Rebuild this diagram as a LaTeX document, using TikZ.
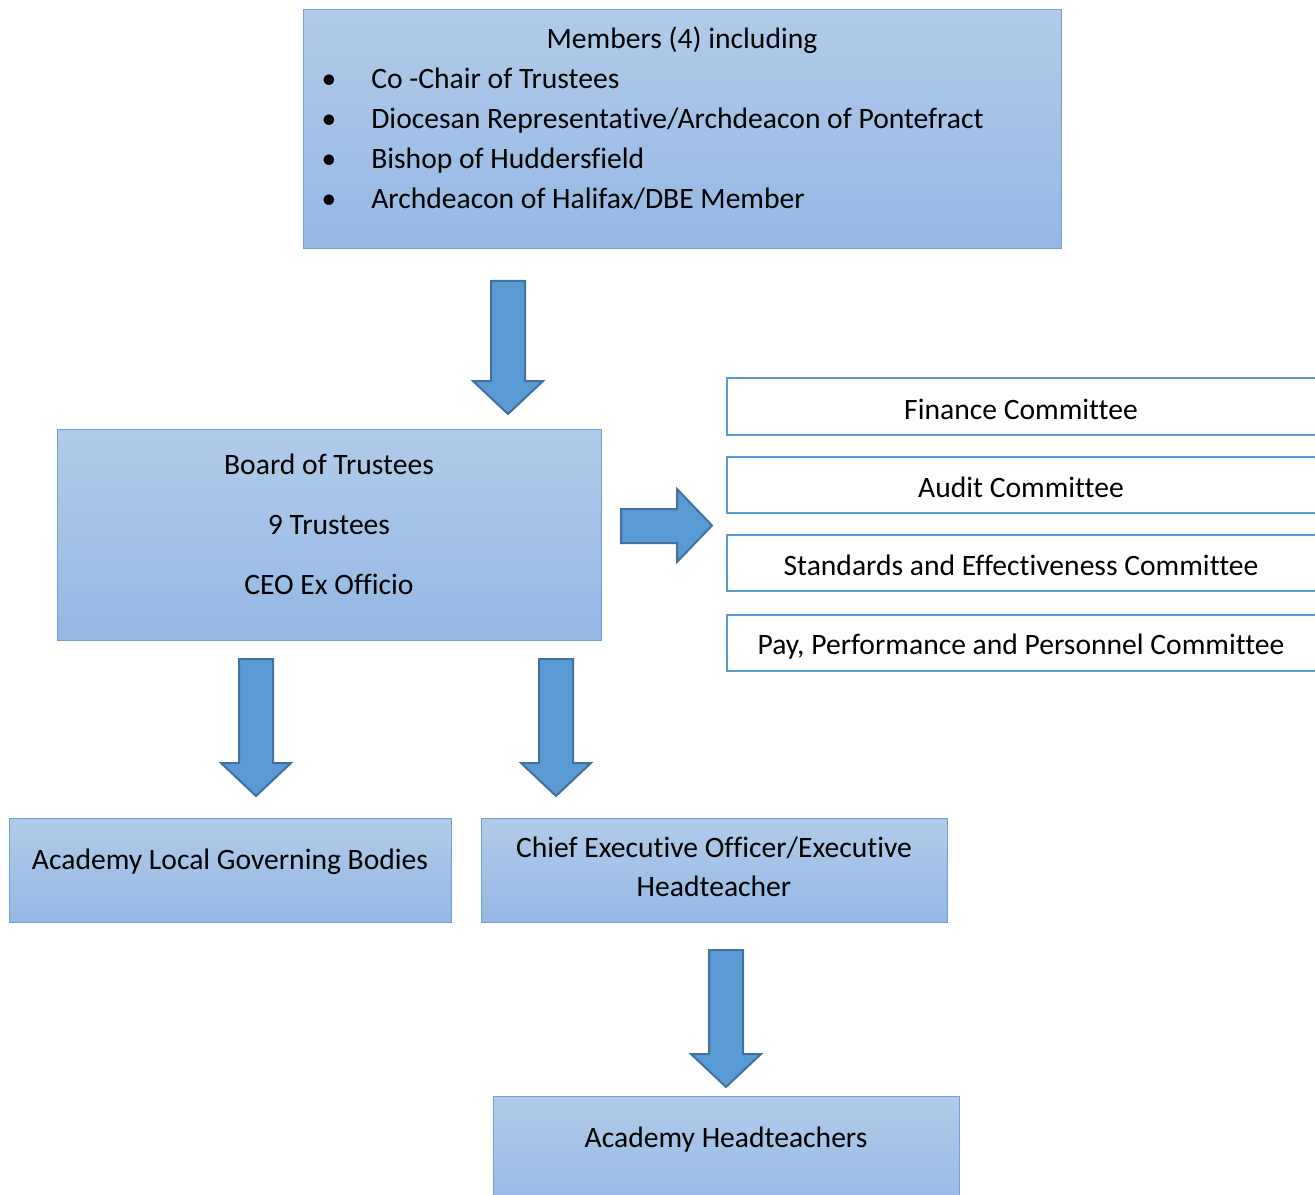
\documentclass[tikz,border=0pt]{standalone}
\usepackage{fontspec}
\setmainfont{Carlito}[Ligatures=CommonOff]
\usetikzlibrary{fit}
\definecolor{boxtop}{HTML}{B1CBE9}
\definecolor{boxbot}{HTML}{94B8E3}
\definecolor{boxline}{HTML}{6FA0D8}
\definecolor{arrfill}{HTML}{5B9BD5}
\definecolor{arrline}{HTML}{41719C}
\definecolor{comline}{HTML}{5B9BD5}
\tikzset{
  bluebox/.style={draw=boxline, line width=0.75pt, top color=boxtop, bottom color=boxbot, inner sep=0pt},
  combox/.style={draw=comline, line width=1.6pt, fill=white, inner sep=0pt},
  blockarrow/.style={draw=arrline, fill=arrfill, line width=1.5pt, line join=miter},
  lbl/.style={anchor=base, inner sep=0pt, font=\fontsize{22.2}{30}\selectfont},
  lblw/.style={anchor=base west, inner sep=0pt, font=\fontsize{22.2}{30}\selectfont},
}
\newcommand\DownBlock[3]{%
  \draw[blockarrow] (#1-17,#2) -- (#1+17,#2) -- (#1+17,#3-33) -- (#1+35,#3-33) -- (#1,#3)
    -- (#1-35,#3-33) -- (#1-17,#3-33) -- cycle;}
\begin{document}
\begin{tikzpicture}[x=0.75pt,y=-0.75pt]
\useasboundingbox (0,0) rectangle (1315,1195);
% boxes
\node[bluebox, fit={(303,10) (1061,249)}] (members) {};
\node[bluebox, fit={(57,429) (601,640)}] (board) {};
\node[bluebox, fit={(9,818) (451,922)}] (algb) {};
\node[bluebox, fit={(481,818) (947,922)}] (ceo) {};
\node[bluebox, fit={(493,1096) (959,1215)}] (heads) {};
\node[combox, fit={(727,378) (1320,435)}] (fin) {};
\node[combox, fit={(727,457) (1320,513)}] (aud) {};
\node[combox, fit={(727,535) (1320,591)}] (std) {};
\node[combox, fit={(727,615) (1320,671)}] (pay) {};
% texts
\node[lbl] (mt) at (682,49) {Members (4) including};
\node[lbl] (b1) at (329,89) {•};
\node[lbl] (b2) at (329,129) {•};
\node[lbl] (b3) at (329,169) {•};
\node[lbl] (b4) at (329,209) {•};
\node[lblw] (m1) at (371,89) {Co -Chair of Trustees};
\node[lblw] (m2) at (371,129) {Diocesan Representative/Archdeacon of Pontefract};
\node[lblw] (m3) at (371,169) {Bishop of Huddersfield};
\node[lblw] (m4) at (371,209) {Archdeacon of Halifax/DBE Member};
\node[lbl] (bt1) at (329,474) {Board of Trustees};
\node[lbl] (bt2) at (329,534) {9 Trustees};
\node[lbl] (bt3) at (329,594) {CEO Ex Officio};
\node[lbl] (ft) at (1021,419) {Finance Committee};
\node[lbl] (at) at (1021,497) {Audit Committee};
\node[lbl] (st) at (1021,575) {Standards and Effectiveness Committee};
\node[lbl] (pt) at (1021,654) {Pay, Performance and Personnel Committee};
\node[lbl] (algbt) at (230,869) {Academy Local Governing Bodies};
\node[lbl] (ceot1) at (714,857) {Chief Executive Officer/Executive};
\node[lbl] (ceot2) at (714,896) {Headteacher};
\node[lbl] (headst) at (726,1147) {Academy Headteachers};
% block arrows
\DownBlock{508}{281}{414}
\DownBlock{256}{659}{796}
\DownBlock{556}{659}{796}
\DownBlock{726}{950}{1087}
\draw[blockarrow] (621,509) -- (677,509) -- (677,489) -- (712,525.5) -- (677,562) -- (677,543) -- (621,543) -- cycle;
\end{tikzpicture}
\end{document}
